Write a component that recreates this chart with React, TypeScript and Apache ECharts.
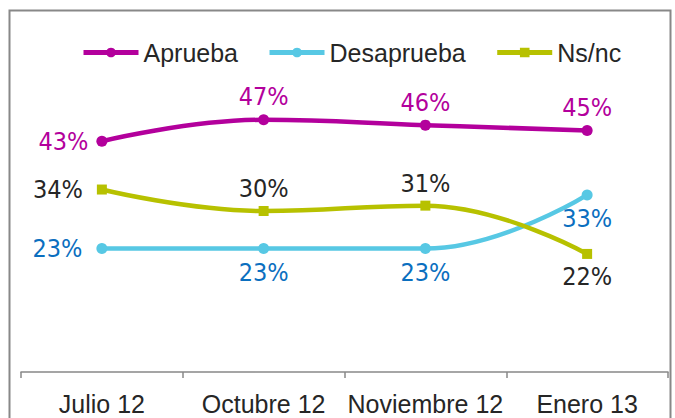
import React, { useEffect, useRef } from "react";
import * as echarts from "echarts";

const categories = ["Julio 12", "Octubre 12", "Noviembre 12", "Enero 13"];
const aprueba = [43, 47, 46, 45];
const desaprueba = [23, 23, 23, 33];
const nsnc = [34, 30, 31, 22];

const aprLabelPos = ["left", "top", "top", "top"];
const desLabelPos = ["left", "bottom", "bottom", "bottom"];
const nsLabelPos = ["left", "top", "top", "bottom"];

const LABEL_FONT = "'Liberation Sans Narrow', 'DejaVu Sans Condensed', sans-serif";
const TEXT_FONT = "'Liberation Sans', Arial, sans-serif";

function buildData(values: number[], positions: string[], leftDist: number, vDist: number) {
  return values.map((v, i) => ({
    value: v,
    label: {
      position: positions[i],
      distance: positions[i] === "left" ? leftDist : vDist,
    },
  }));
}

export default function App() {
  const ref = useRef<HTMLDivElement>(null);
  useEffect(() => {
    if (!ref.current) return;
    const chart = echarts.init(ref.current, null, { renderer: "svg" });
    const mkSeries = (
      name: string,
      values: number[],
      positions: string[],
      color: string,
      labelColor: string,
      symbol: string,
      symbolSize: number,
      leftDist: number,
      vDist: number
    ) => ({
      name,
      type: "line",
      smooth: 0.45,
      data: buildData(values, positions, leftDist, vDist),
      symbol,
      symbolSize,
      showAllSymbol: true,
      lineStyle: { color, width: 4.5 },
      itemStyle: { color },
      label: {
        show: true,
        formatter: "{c}%",
        color: labelColor,
        fontFamily: LABEL_FONT,
        fontSize: 25,
      },
      emphasis: { disabled: true },
    });
    chart.setOption({
      animation: false,
      backgroundColor: "#ffffff",
      graphic: [
        {
          type: "rect",
          shape: { x: 9.5, y: 10.5, width: 661, height: 440 },
          style: { fill: "none", stroke: "#888888", lineWidth: 2 },
          silent: true,
        },
      ],
      legend: {
        left: 76,
        top: 35,
        itemWidth: 55,
        itemHeight: 12,
        itemGap: 29,
        lineStyle: { width: 5 },
        textStyle: { fontFamily: TEXT_FONT, fontSize: 25, color: "#262626" },
        data: ["Aprueba", "Desaprueba", "Ns/nc"],
      },
      grid: { left: 21, right: 7, top: 50, bottom: 46 },
      xAxis: {
        type: "category",
        data: categories,
        boundaryGap: true,
        axisLine: { lineStyle: { color: "#888888", width: 1.5 } },
        axisTick: { show: true, length: 6, lineStyle: { color: "#888888", width: 1.5 } },
        axisLabel: {
          fontFamily: TEXT_FONT,
          fontSize: 25,
          color: "#262626",
          margin: 19,
          interval: 0,
        },
      },
      yAxis: {
        type: "value",
        min: 0,
        max: 60,
        show: false,
        splitLine: { show: false },
      },
      series: [
        mkSeries("Aprueba", aprueba, aprLabelPos, "#B3009C", "#B3009C", "circle", 11, 8, 5),
        mkSeries("Desaprueba", desaprueba, desLabelPos, "#57C8E4", "#0B6FBF", "circle", 11, 14, 6),
        mkSeries("Ns/nc", nsnc, nsLabelPos, "#B7C100", "#262626", "rect", 10, 14, 5),
      ],
    });
    return () => chart.dispose();
  }, []);
  return <div ref={ref} style={{ width: 675, height: 418, position: "absolute", left: 0, top: 0 }} />;
}
